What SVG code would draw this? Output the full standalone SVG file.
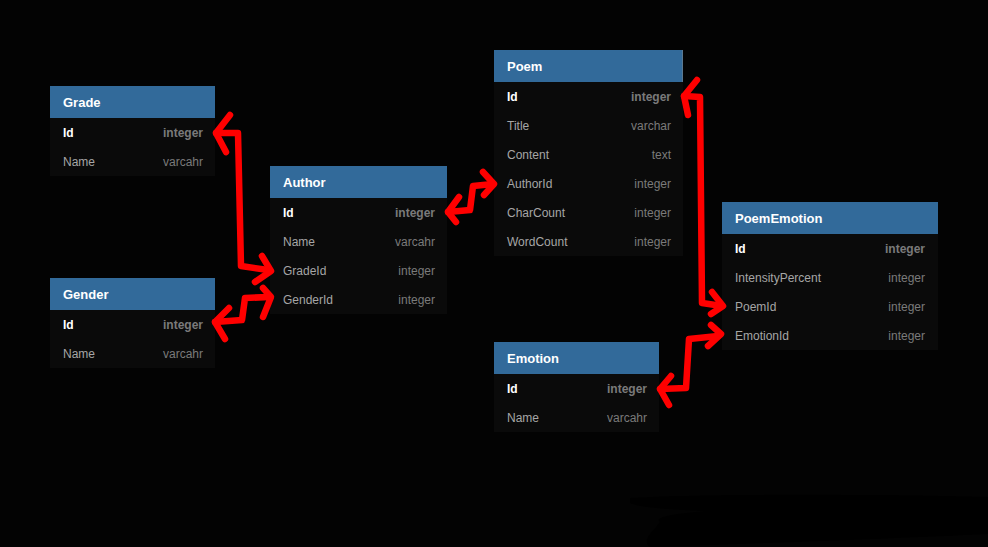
<svg xmlns="http://www.w3.org/2000/svg" width="988" height="547" viewBox="0 0 988 547">
<style>
.hd{fill:#326a9a}
.bd{fill:#0a0a0a}
.tt{font-family:"Liberation Sans",Arial,sans-serif;font-size:13px;font-weight:bold;fill:#ffffff}
.pk{font-family:"Liberation Sans",Arial,sans-serif;font-size:12px;font-weight:bold;fill:#ffffff}
.pkt{font-family:"Liberation Sans",Arial,sans-serif;font-size:12px;font-weight:bold;fill:#7a7a7a;text-anchor:end}
.fn{font-family:"Liberation Sans",Arial,sans-serif;font-size:12px;fill:#a6a6a6}
.ft{font-family:"Liberation Sans",Arial,sans-serif;font-size:12px;fill:#7a7a7a;text-anchor:end}
.cn{fill:none;stroke:#ff0000;stroke-width:6.5;stroke-linecap:round;stroke-linejoin:round}
</style>
<rect x="0" y="0" width="988" height="547" fill="#030303"/>
<path d="M630,498 C700,494 850,494 988,497 L988,534 C900,538 800,542 650,547 C640,540 655,530 660,522 C650,515 700,512 705,511 C680,510 640,508 630,503 Z" fill="#000000"/>

<g id="Grade">
<rect class="hd" x="50" y="86" width="165" height="32"/>
<rect class="bd" x="50" y="118" width="165" height="58"/>
<text class="tt" x="63" y="107">Grade</text>
<text class="pk" x="63" y="137">Id</text><text class="pkt" x="203" y="137">integer</text>
<text class="fn" x="63" y="166">Name</text><text class="ft" x="203" y="166">varcahr</text>
</g>

<g id="Gender">
<rect class="hd" x="50" y="278" width="165" height="32"/>
<rect class="bd" x="50" y="310" width="165" height="58"/>
<text class="tt" x="63" y="299">Gender</text>
<text class="pk" x="63" y="329">Id</text><text class="pkt" x="203" y="329">integer</text>
<text class="fn" x="63" y="358">Name</text><text class="ft" x="203" y="358">varcahr</text>
</g>

<g id="Author">
<rect class="hd" x="270" y="166" width="177" height="32"/>
<rect class="bd" x="270" y="198" width="177" height="116"/>
<text class="tt" x="283" y="187">Author</text>
<text class="pk" x="283" y="217">Id</text><text class="pkt" x="435" y="217">integer</text>
<text class="fn" x="283" y="246">Name</text><text class="ft" x="435" y="246">varcahr</text>
<text class="fn" x="283" y="275">GradeId</text><text class="ft" x="435" y="275">integer</text>
<text class="fn" x="283" y="304">GenderId</text><text class="ft" x="435" y="304">integer</text>
</g>

<g id="Poem">
<rect class="hd" x="494" y="50" width="188" height="32"/>
<rect x="682" y="50" width="1" height="32" fill="#5a7890"/>
<rect class="bd" x="494" y="82" width="189" height="174"/>
<text class="tt" x="507" y="71">Poem</text>
<text class="pk" x="507" y="101">Id</text><text class="pkt" x="671" y="101">integer</text>
<text class="fn" x="507" y="130">Title</text><text class="ft" x="671" y="130">varchar</text>
<text class="fn" x="507" y="159">Content</text><text class="ft" x="671" y="159">text</text>
<text class="fn" x="507" y="188">AuthorId</text><text class="ft" x="671" y="188">integer</text>
<text class="fn" x="507" y="217">CharCount</text><text class="ft" x="671" y="217">integer</text>
<text class="fn" x="507" y="246">WordCount</text><text class="ft" x="671" y="246">integer</text>
</g>

<g id="Emotion">
<rect class="hd" x="494" y="342" width="165" height="32"/>
<rect class="bd" x="494" y="374" width="165" height="58"/>
<text class="tt" x="507" y="363">Emotion</text>
<text class="pk" x="507" y="393">Id</text><text class="pkt" x="647" y="393">integer</text>
<text class="fn" x="507" y="422">Name</text><text class="ft" x="647" y="422">varcahr</text>
</g>

<g id="PoemEmotion">
<rect class="hd" x="722" y="202" width="216" height="32"/>
<rect class="bd" x="722" y="234" width="216" height="116"/>
<text class="tt" x="735" y="223">PoemEmotion</text>
<text class="pk" x="735" y="253">Id</text><text class="pkt" x="925" y="253">integer</text>
<text class="fn" x="735" y="282">IntensityPercent</text><text class="ft" x="925" y="282">integer</text>
<text class="fn" x="735" y="311">PoemId</text><text class="ft" x="925" y="311">integer</text>
<text class="fn" x="735" y="340">EmotionId</text><text class="ft" x="925" y="340">integer</text>
</g>

<g id="connectors">
<path class="cn" d="M216,133 L238,133 L241,266 L268,270"/>
<path class="cn" d="M230,115 L216,133 L226,152"/>
<path class="cn" d="M262,256 L271,271 L255,282"/>

<path class="cn" d="M215,322 L242,320 L245,298 L269,297"/>
<path class="cn" d="M229,308 L215,322 L225,339"/>
<path class="cn" d="M263,288 L271,297 L263,317"/>

<path class="cn" d="M448,212 L470,210 L473,186 L493,184"/>
<path class="cn" d="M459,197 L448,212 L456,222"/>
<path class="cn" d="M483,172 L494,184 L484,195"/>

<path class="cn" d="M684,96 L700,97 L702,303 L722,306"/>
<path class="cn" d="M697,80 L684,96 L688,115"/>
<path class="cn" d="M712,292 L723,306 L711,314"/>

<path class="cn" d="M660,389 L686,388 L689,339 L718,336"/>
<path class="cn" d="M671,376 L660,389 L669,405"/>
<path class="cn" d="M711,325 L721,334 L708,346"/>
</g>
</svg>
